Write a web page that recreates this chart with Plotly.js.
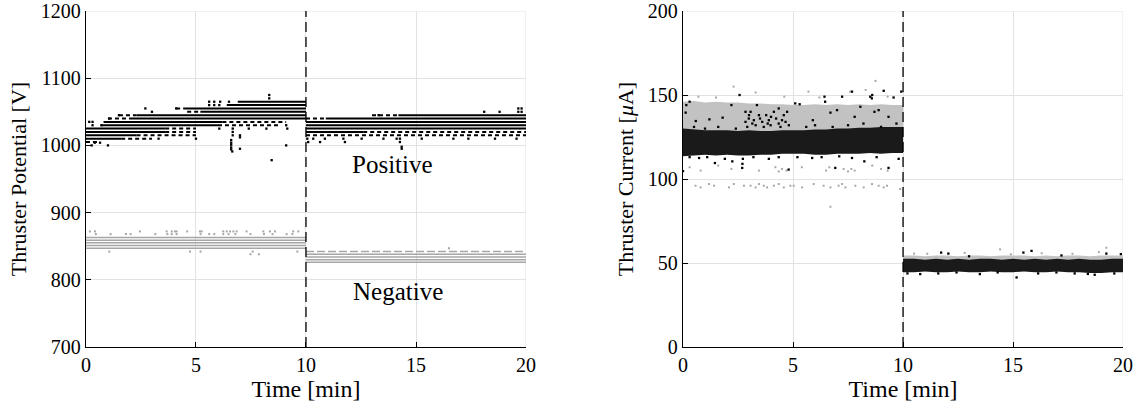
<!DOCTYPE html>
<html><head><meta charset="utf-8">
<script src="https://cdn.plot.ly/plotly-3.0.1.min.js"></script>
<style>html,body{margin:0;padding:0;background:#fff}#chart{width:1146px;height:412px}</style>
</head><body><div id="chart"></div>
<script>
// ---------- Left: Thruster Potential [V] ----------
// Positive (black), dense quantised rows: level, start time, end time [min]
const posDenseLevel = [1010,1015,1020,1025,1030,1035,1040,1045,1050,1055,1060,1065, 1020,1025,1030,1035,1040,1045];
const posDenseStart = [0,   0,   0,   0,   0.7, 0.8, 2.0, 2.3, 5.2, 4.5, 6.4, 6.9,  10,  10,  10,  10,  10.9,14.2];
const posDenseEnd   = [1.6, 2.3, 3.6, 3.6, 6.0, 6.2, 10,  10,  10,  10,  10,  10,   12.6,20,  20,  20,  20,  20];
// Positive, broken (intermittent) rows
const posBrokenLevel = [1005,1010,1015,1020,1025,1030,1035,1040,1045,1050,1055, 1015,1020,1040,1045];
const posBrokenStart = [0,   1.6, 2.3, 3.6, 3.6, 6.0, 6.2, 1.0, 1.5, 4.6, 4.1,  10,  12.6,10,  13.0];
const posBrokenEnd   = [0.6, 3.0, 5.0, 5.0, 5.0, 8.8, 9.1, 2.0, 2.3, 5.2, 4.5,  20,  20,  10.9,14.2];
// Positive, isolated samples
const posSparseT = [0.26,1.0,0.4,0.64,0.15,0.3,0.3,0.7,1.06,1.5,2.7,4.1,3.0,5.6,5.83,6.06,5.6,5.83,6.1,6.5,8.33,8.33,
  6.06,6.67,6.67,6.67,7.0,3.3,5.0,6.6,6.6,6.6,6.6,6.6,6.65,7.0,7.0,8.44,9.1,9.1,9.15,7.4,8.2,
  10.06,10.33,10.86,11.7,12.53,13.52,14.12,14.27,15.26,16.7,17.38,18.59,19.57,10.1,10.64,11.77,14.27,14.35,14.35,18.1,18.8,19.65,19.8,19.65,19.8,13.3];
const posSparseV = [1000,1000,1004,1004,1035,1035,1030,1030,1040,1045,1055,1055,1050,1060,1060,1060,1065,1065,1065,1065,1070,1075,
  1025,1025,1020,1015,1015,1010,1010,1008,1004,1001,997,994,991,995,1012,978,1000,1030,1025,1025,1025,
  1010,1010,1010,1010,1010,1010,1010,1010,1010,1010,1010,1010,1010,1005,1005,1005,1005,995,998,1050,1050,1050,1050,1055,1055,1045];
// Negative (grey), dense rows
const negDenseLevel = [847,851,855,859,863, 826,830,834,838];
const negDenseStart = [0,  0,  0,  0,  0,   10, 10, 10, 10];
const negDenseEnd   = [10, 10, 10, 10, 10,  20, 20, 20, 20];
const negBrokenLevel = [842];
const negBrokenStart = [10];
const negBrokenEnd   = [20];
const negSparseT = [0.18,0.41,2.45,3.67,3.9,4.05,4.12,4.6,5.18,5.26,6.24,6.4,6.55,6.7,6.85,7.3,8.06,8.36,8.59,9.42,9.65,
  0.45,1.12,1.82,2.03,3.15,3.7,3.9,4.12,5.21,5.6,5.83,6.24,6.48,6.79,7.48,8.09,8.48,9.12,9.38,
  1.06,4.73,5.21,7.58,9.61,7.48,7.86,16.5];
const negSparseV = [872,872,872,872,872,872,872,872,872,872,872,872,872,872,872,872,872,872,872,872,872,
  868,868,868,868,868,868,868,868,868,868,868,868,868,868,868,868,868,868,868,
  842,842,842,842,842,838,838,847];

// ---------- Right: Thruster Current [uA] ----------
const curT0 = [0,0.5,1,1.5,2,2.5,3,3.5,4,4.5,5,5.5,6,6.5,7,7.5,8,8.5,9,9.5,10];
const grayHi0  = [146,146.5,145.5,146,145.5,145.5,145,145,144.5,144.5,144,144,144.5,144,144.5,144,144.5,144,144.5,144,144];
const grayLo0  = [128,128,128.5,128,128,128.5,128,128,128.5,128,128,128.5,128,128,128.5,128,128.5,128.5,129,129,129];
const blackHi0 = [130,129.5,129,129,129,128.5,129,128.5,128.5,129,129,129,129.5,129.5,130,130,130.5,130.5,131,131,131];
const blackLo0 = [113.5,114,114.5,114,114.5,114,114,114.5,114.5,115,115,115,114.5,114.5,115,115,115,115.5,115,115.5,115.5];
const curT1 = [10,10.5,11,11.5,12,12.5,13,13.5,14,14.5,15,15.5,16,16.5,17,17.5,18,18.5,19,19.5,20];
const grayHi1  = [54.5,54.5,54,54.5,54.5,54,54.5,54.5,54,54.5,54.5,54.5,54,54.5,54,54.5,54.5,54,54.5,54.5,54.5];
const grayLo1  = [48,48,48,48,48,48,48,48,48,48,48,48,48,48,48,48,48,48,48,48,48];
const blackHi1 = [52.5,52.5,52,52.5,52,52.5,52,52.5,52.5,52,52.5,52,52.5,52,52.5,52,52.5,52,52,52.5,52.5];
const blackLo1 = [44.5,44.5,45,44.5,44.5,45,44.5,44.5,45,44.5,44.5,45,44.5,44.5,45,44.5,44.5,44,44,44.5,44.5];
const curBlackT = [0.15,0.3,0.12,0.58,1.2,1.8,2.2,2.57,3.36,4.35,5.1,5.3,6.43,6.46,6.7,7.0,7.23,7.68,8.06,8.51,8.58,8.6,8.89,9.12,9.34,9.57,9.92,
  2.84,2.84,2.92,2.99,3.07,3.22,3.3,3.45,3.6,3.67,3.78,3.9,3.98,4.13,4.23,4.35,4.43,4.58,4.66,4.73,4.81,3.0,3.5,4.0,4.5,3.15,3.85,
  0.5,1.0,1.6,2.4,5.6,6.0,6.8,7.5,8.2,9.0,9.7,5.9,7.8,8.7,
  0.73,2.24,2.69,2.7,2.72,4.35,5.87,6.92,7.68,8.24,9.34,0.0,1.45,4.8,0.3,1.1,1.9,3.2,3.9,5.2,6.3,7.1,8.8,9.8,
  11.73,12.06,15.47,15.84,19.24,19.9,10.78,11.6,12.43,13.49,14.3,15.16,16.14,16.97,17.8,18.71,19.6,10.2,13.0,17.2,18.4];
const curBlackV = [144,146,139.5,134.5,135.5,136.5,144,150,144,142,145,144.5,149,146,139.5,141,149,152,143,149,148,150,141,152.5,137,148.5,152,
  140,134,131,136,140,135,132,138,134,131,138,135,132,140,136,133,131,138,134,140,132,138,136,137,135,133,133,
  131,130,131,130,131,132,131,132,133,131,133,135,137,140,
  112.5,110.5,106.6,109,112,113,112.5,106.6,112.5,110.5,106.6,104.7,109.5,105.6,113,113,112,113,112,113,113,113.5,113,112,
  56.2,55.6,56.2,57.2,55.6,55.3,43.4,43.8,44.4,43.4,44.4,41.4,43.8,44.4,43.8,43,43.8,43.8,54,54.5,43.5];
const curGrayT = [0.57,0.80,1.18,1.41,2.09,2.31,2.77,3.07,3.30,3.45,3.67,3.82,4.13,4.35,4.58,4.88,5.03,5.41,5.94,6.39,6.70,7.07,7.23,7.38,7.83,8.21,8.59,8.89,9.12,9.27,9.87,
  0.3,0.8,1.6,2.2,3.45,4.2,4.35,4.5,4.7,5.4,6.5,6.65,7.3,7.5,7.65,7.8,8.6,9.0,9.3,
  0.2,1.6,2.2,5.8,6.4,8.3,9.9,
  2.3,3.3,5.7,7.6,8.3,8.75,0.7,1.5,4.6,6.2,9.3,6.7,
  14.41,19.24,11.1,12.8,16.3,17.7,18.9,10.5,14.9];
const curGrayV = [96,95,97,96,95,97,96,96,95,97,96,95,96,97,95,96,96,95,97,96,95,96,97,95,96,95,97,96,95,96,94,
  107,105,108,106,105,107,104.5,106,105,107,105,107,106,104.5,106,105,108,106,105,
  119,118,117,118,117,118,117.5,
  155,151.5,152,152,153,158.4,149,148.5,149,148.5,149,83.5,
  58.1,59.1,55.5,56,55.8,55.5,56.5,55.6,55.2];

// ---------- helpers ----------
function segs(levels, starts, ends){const x=[],y=[];for(let i=0;i<levels.length;i++){x.push(starts[i],ends[i],null);y.push(levels[i],levels[i],null);}return {x,y};}
function band(t,hi,lo){return {x:t.concat(t.slice().reverse()),y:hi.concat(lo.slice().reverse())};}

const BLACK='#000000', GREY='#a6a6a6';
const traces=[];
function rowTrace(s,color,w,dash,xa,ya){traces.push({x:s.x,y:s.y,mode:'lines',line:{color:color,width:w,dash:dash},xaxis:xa,yaxis:ya,hoverinfo:'skip',connectgaps:false});}
rowTrace(segs(negDenseLevel,negDenseStart,negDenseEnd),GREY,1.5,'solid','x','y');
rowTrace(segs(negBrokenLevel,negBrokenStart,negBrokenEnd),GREY,1.5,'8px,3px','x','y');
traces.push({x:negSparseT,y:negSparseV,mode:'markers',marker:{color:GREY,size:2,symbol:'square'},xaxis:'x',yaxis:'y',hoverinfo:'skip'});
rowTrace(segs(posDenseLevel,posDenseStart,posDenseEnd),BLACK,2,'solid','x','y');
rowTrace(segs(posBrokenLevel,posBrokenStart,posBrokenEnd),BLACK,2,'4px,3px','x','y');
traces.push({x:posSparseT,y:posSparseV,mode:'markers',marker:{color:BLACK,size:2.3,symbol:'square'},xaxis:'x',yaxis:'y',hoverinfo:'skip'});

function bandTrace(b,fill,xa,ya){traces.push({x:b.x,y:b.y,mode:'lines',fill:'toself',fillcolor:fill,line:{width:0,color:fill},xaxis:xa,yaxis:ya,hoverinfo:'skip'});}
bandTrace(band(curT0,grayHi0,grayLo0),'#c2c2c2','x2','y2');
bandTrace(band(curT1,grayHi1,grayLo1),'#c2c2c2','x2','y2');
traces.push({x:curGrayT,y:curGrayV,mode:'markers',marker:{color:'#a8a8a8',size:2,symbol:'square'},xaxis:'x2',yaxis:'y2',hoverinfo:'skip'});
bandTrace(band(curT0,blackHi0,blackLo0),'#1a1a1a','x2','y2');
bandTrace(band(curT1,blackHi1,blackLo1),'#1a1a1a','x2','y2');
traces.push({x:curBlackT,y:curBlackV,mode:'markers',marker:{color:BLACK,size:2.3,symbol:'square'},xaxis:'x2',yaxis:'y2',hoverinfo:'skip'});

const FONT='Liberation Serif';
function xax(domain,anchor){return {domain:domain,anchor:anchor,range:[0,20],tickvals:[0,5,10,15,20],ticks:'inside',ticklen:5,tickcolor:'#000',tickwidth:1,
  showline:true,linecolor:'#000',linewidth:1.3,showgrid:true,gridcolor:'#e2e2e2',gridwidth:1,zeroline:false,tickfont:{size:20,family:FONT,color:'#000'},
  ticklabeloverflow:'allow',title:{text:'Time [min]',font:{size:24,family:FONT,color:'#000'},standoff:4},automargin:false};}
function yax(range,tv,title,anchor){return {domain:[0,1],anchor:anchor,range:range,tickvals:tv,ticks:'inside',ticklen:5,tickcolor:'#000',tickwidth:1,
  showline:true,linecolor:'#000',linewidth:1.3,showgrid:true,gridcolor:'#e2e2e2',gridwidth:1,zeroline:false,tickfont:{size:20,family:FONT,color:'#000'},
  ticklabeloverflow:'allow',title:{text:title,font:{size:22,family:FONT,color:'#000'},standoff:8},automargin:false};}

const layout={width:1146,height:412,margin:{l:0,r:0,t:11,b:65},showlegend:false,paper_bgcolor:'#fff',plot_bgcolor:'#fff',
  font:{family:FONT,color:'#000'},
  xaxis:xax([0.075,0.459],'y'),
  yaxis:yax([700,1200],[700,800,900,1000,1100,1200],'Thruster Potential [V]','x'),
  xaxis2:xax([0.596,0.980],'y2'),
  yaxis2:yax([0,200],[0,50,100,150,200],'Thruster Current [<i>μ</i>A]','x2'),
  shapes:[
    {type:'line',xref:'x',yref:'y',x0:0,x1:20,y0:1200,y1:1200,line:{color:'#e2e2e2',width:1},layer:'below'},
    {type:'line',xref:'x',yref:'y',x0:20,x1:20,y0:700,y1:1200,line:{color:'#e2e2e2',width:1},layer:'below'},
    {type:'line',xref:'x2',yref:'y2',x0:0,x1:20,y0:200,y1:200,line:{color:'#e2e2e2',width:1},layer:'below'},
    {type:'line',xref:'x2',yref:'y2',x0:20,x1:20,y0:0,y1:200,line:{color:'#e2e2e2',width:1},layer:'below'},
    {type:'line',xref:'x',yref:'y',x0:10,x1:10,y0:700,y1:1200,line:{color:'#000',width:1.3,dash:'10px,5px'}},
    {type:'line',xref:'x2',yref:'y2',x0:10,x1:10,y0:0,y1:200,line:{color:'#000',width:1.3,dash:'10px,5px'}}
  ],
  annotations:[
    {xref:'x',yref:'y',x:13.95,y:972,text:'Positive',showarrow:false,font:{size:25,family:FONT,color:'#000'}},
    {xref:'x',yref:'y',x:14.2,y:782,text:'Negative',showarrow:false,font:{size:25,family:FONT,color:'#000'}}
  ]
};
Plotly.newPlot('chart',traces,layout,{staticPlot:true,displayModeBar:false});
</script></body></html>
